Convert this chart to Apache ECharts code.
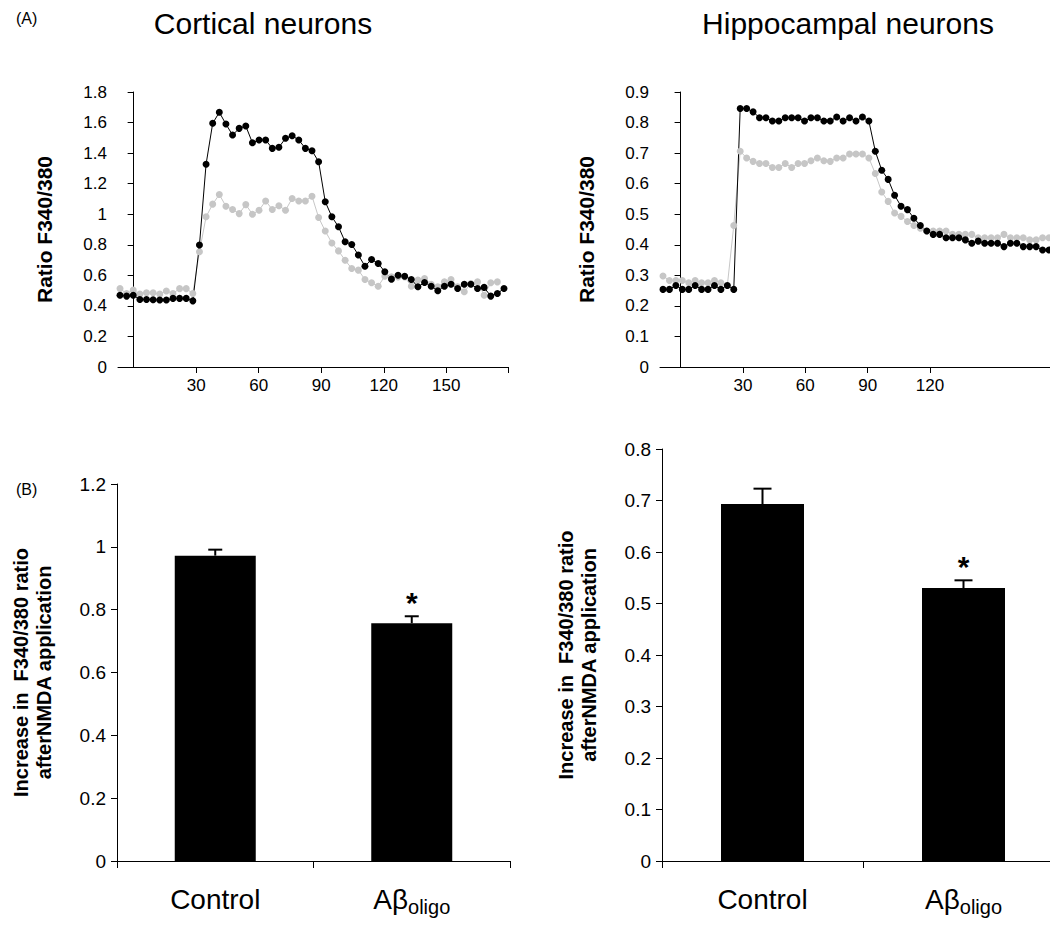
<!DOCTYPE html>
<html>
<head>
<meta charset="utf-8">
<script src="https://cdn.jsdelivr.net/npm/echarts@6/dist/echarts.min.js"></script>
<style>
  html, body { margin: 0; background: #fff; }
  #main { width: 1050px; height: 926px; }
</style>
</head>
<body>
<div id="main"></div>
<script>
// (A) Fura-2 ratio traces, one value per sample (~3.2 s apart)
// black = control, grey = Abeta oligomer treated
var cortControl = [0.47, 0.464, 0.47, 0.442, 0.442, 0.44, 0.438, 0.438, 0.449, 0.449, 0.449, 0.433,
  0.798, 1.327, 1.595, 1.667, 1.59, 1.518, 1.562, 1.577, 1.468, 1.486, 1.486, 1.431, 1.438, 1.497,
  1.514, 1.486, 1.431, 1.416, 1.344, 1.082, 0.983, 0.918, 0.82, 0.802, 0.733, 0.66, 0.704, 0.678,
  0.623, 0.575, 0.601, 0.594, 0.573, 0.525, 0.553, 0.529, 0.499, 0.529, 0.542, 0.514, 0.542, 0.542,
  0.514, 0.521, 0.464, 0.481, 0.514];
var cortAbeta = [0.513, 0.481, 0.503, 0.477, 0.486, 0.486, 0.477, 0.498, 0.481, 0.513, 0.513, 0.481,
  0.754, 0.983, 1.066, 1.129, 1.052, 1.031, 1.004, 1.063, 1.0, 1.026, 1.087, 1.031, 1.055, 1.026,
  1.103, 1.087, 1.087, 1.118, 0.978, 0.89, 0.812, 0.76, 0.699, 0.645, 0.634, 0.573, 0.551, 0.529,
  0.594, 0.59, 0.59, 0.59, 0.529, 0.57, 0.579, 0.542, 0.525, 0.557, 0.573, 0.525, 0.492, 0.547,
  0.557, 0.47, 0.551, 0.557];
var hippControl = [0.254, 0.254, 0.267, 0.254, 0.254, 0.267, 0.254, 0.254, 0.267, 0.254, 0.267, 0.254,
  0.846, 0.846, 0.835, 0.816, 0.816, 0.805, 0.805, 0.816, 0.816, 0.816, 0.805, 0.816, 0.816, 0.805,
  0.805, 0.818, 0.805, 0.816, 0.805, 0.818, 0.805, 0.706, 0.644, 0.614, 0.562, 0.526, 0.515, 0.487,
  0.463, 0.445, 0.434, 0.434, 0.423, 0.423, 0.423, 0.416, 0.405, 0.412, 0.405, 0.405, 0.405, 0.394,
  0.405, 0.405, 0.394, 0.394, 0.394, 0.383, 0.383];
var hippAbeta = [0.298, 0.283, 0.283, 0.283, 0.276, 0.283, 0.276, 0.276, 0.283, 0.276, 0.267, 0.463,
  0.706, 0.684, 0.673, 0.666, 0.666, 0.653, 0.653, 0.666, 0.653, 0.666, 0.666, 0.675, 0.684, 0.675,
  0.673, 0.684, 0.684, 0.697, 0.697, 0.697, 0.684, 0.633, 0.573, 0.542, 0.504, 0.493, 0.476, 0.463,
  0.454, 0.445, 0.445, 0.445, 0.445, 0.434, 0.434, 0.434, 0.434, 0.423, 0.423, 0.423, 0.423, 0.434,
  0.423, 0.423, 0.423, 0.416, 0.416, 0.423, 0.423];

// time axis tick labels (s)
var cortTimeTicks = [30, 60, 90, 120, 150];
var hippTimeTicks = [30, 60, 90, 120];

// (B) increase in F340/380 after NMDA, mean + SEM
var barCats = ['Control', 'Aβoligo'];
var cortIncrease = [0.972, 0.757];
var cortSem = [0.019, 0.022];
var hippIncrease = [0.693, 0.53];
var hippSem = [0.03, 0.015];
var signif = ['', '*'];

var FONT = '"Liberation Sans", Arial, sans-serif';
var YNAME_B = 'Increase in  F340/380 ratio\nafterNMDA application';

function sampleNums(arr) {
  return arr.map(function (v, i) { return i + 1; });
}

var chart = echarts.init(document.getElementById('main'), null, { renderer: 'svg' });

function trace(data, color, idx) {
  return {
    type: 'line', xAxisIndex: idx, yAxisIndex: idx, data: data,
    symbol: 'circle', symbolSize: 7, showSymbol: true, showAllSymbol: true,
    lineStyle: { color: color, width: 1 },
    itemStyle: { color: color },
    silent: true
  };
}

function timeAxis(grid, min, max, ticks) {
  return {
    type: 'value', gridIndex: grid, min: min, max: max,
    axisLine: { show: true, onZero: false, lineStyle: { color: '#000', width: 1 } },
    axisTick: { show: true, length: 6, customValues: ticks.concat([max]), lineStyle: { color: '#000' } },
    axisLabel: { customValues: ticks, color: '#000', fontSize: 17, margin: 10 },
    splitLine: { show: false }
  };
}

function hiddenCat(grid, data) {
  return { type: 'category', gridIndex: grid, data: sampleNums(data), boundaryGap: false, show: false };
}

function ratioAxis(grid, max, step, name, gap, nameSize, labelSize) {
  return {
    type: 'value', gridIndex: grid, min: 0, max: max, interval: step,
    name: name, nameLocation: 'middle', nameRotate: 90, nameGap: gap,
    nameTextStyle: { fontWeight: 'bold', fontSize: nameSize, color: '#000', lineHeight: nameSize + 3 },
    axisLine: { show: true, lineStyle: { color: '#000', width: 1 } },
    axisTick: { show: true, length: 6, lineStyle: { color: '#000' } },
    axisLabel: { color: '#000', fontSize: labelSize, margin: 11 },
    splitLine: { show: false }
  };
}

function hiddenRatio(grid, max) {
  return { type: 'value', gridIndex: grid, min: 0, max: max, show: false };
}

function catAxis(grid) {
  return {
    type: 'category', gridIndex: grid, data: barCats,
    axisLine: { show: true, lineStyle: { color: '#000', width: 1 } },
    axisTick: { show: true, length: 7, lineStyle: { color: '#000' } },
    axisLabel: {
      margin: 20, color: '#000',
      formatter: function (v) {
        return v.indexOf('Aβ') === 0 ? '{m|Aβ}{s|' + v.slice(2) + '}' : '{m|' + v + '}';
      },
      rich: {
        m: { fontSize: 28, lineHeight: 36, color: '#000' },
        s: { fontSize: 20, lineHeight: 20, verticalAlign: 'bottom', color: '#000' }
      }
    }
  };
}

function bars(idx, vals, width) {
  return {
    type: 'bar', xAxisIndex: idx, yAxisIndex: idx, data: vals, barWidth: width,
    itemStyle: { color: '#000' }, silent: true
  };
}

function errBars(idx, vals, errs, capHalf) {
  return {
    type: 'custom', xAxisIndex: idx, yAxisIndex: idx, z: 5, silent: true,
    data: vals.map(function (v, i) { return [i, v, errs[i]]; }),
    renderItem: function (params, api) {
      var i = api.value(0), v = api.value(1), e = api.value(2);
      var p0 = api.coord([i, v]);
      var p1 = api.coord([i, v + e]);
      var st = { stroke: '#000', lineWidth: 2 };
      var kids = [
        { type: 'line', shape: { x1: p0[0], y1: p0[1], x2: p1[0], y2: p1[1] }, style: st },
        { type: 'line', shape: { x1: p1[0] - capHalf, y1: p1[1], x2: p1[0] + capHalf, y2: p1[1] }, style: st }
      ];
      if (signif[i]) {
        kids.push({
          type: 'text',
          style: {
            text: signif[i], x: p1[0], y: p1[1] - 14,
            textAlign: 'center', align: 'center',
            textVerticalAlign: 'middle', verticalAlign: 'middle',
            font: 'bold 30px ' + FONT, fill: '#000'
          }
        });
      }
      return { type: 'group', children: kids };
    }
  };
}

var gridBase = { outerBoundsMode: 'none', containLabel: false };
function g(left, top, width, height) {
  return Object.assign({ left: left, top: top, width: width, height: height }, gridBase);
}

var option = {
  animation: false,
  backgroundColor: '#fff',
  textStyle: { fontFamily: FONT, color: '#000' },
  title: [
    { text: '(A)', left: 11, top: 5, textStyle: { fontSize: 16, fontWeight: 'normal', color: '#000' } },
    { text: 'Cortical neurons', left: 258, top: 3, textAlign: 'center', textStyle: { fontSize: 30, fontWeight: 'normal', color: '#000' } },
    { text: 'Hippocampal neurons', left: 843, top: 3, textAlign: 'center', textStyle: { fontSize: 30, fontWeight: 'normal', color: '#000' } },
    { text: '(B)', left: 11, top: 476, textStyle: { fontSize: 16, fontWeight: 'normal', color: '#000' } }
  ],
  grid: [
    g(118, 92, 390, 275),
    g(120, 92, 384, 275),
    g(660, 92, 390, 275),
    g(663, 92, 386, 275),
    g(117, 484, 393, 377),
    g(662, 449, 402, 412)
  ],
  xAxis: [
    timeAxis(0, -7.5, 179.6, cortTimeTicks),
    hiddenCat(1, cortControl),
    timeAxis(2, -9.9, 177.7, hippTimeTicks),
    hiddenCat(3, hippControl),
    catAxis(4),
    catAxis(5)
  ],
  yAxis: [
    ratioAxis(0, 1.8, 0.2, 'Ratio F340/380', 62, 21, 17),
    hiddenRatio(1, 1.8),
    ratioAxis(2, 0.9, 0.1, 'Ratio F340/380', 62, 21, 17),
    hiddenRatio(3, 0.9),
    ratioAxis(4, 1.2, 0.2, YNAME_B, 62, 20, 19),
    ratioAxis(5, 0.8, 0.1, YNAME_B, 62, 20, 19)
  ],
  series: [
    trace(cortAbeta, '#c6c6c6', 1),
    trace(cortControl, '#000', 1),
    trace(hippAbeta, '#c6c6c6', 3),
    trace(hippControl, '#000', 3),
    bars(4, cortIncrease, 81),
    errBars(4, cortIncrease, cortSem, 7),
    bars(5, hippIncrease, 83),
    errBars(5, hippIncrease, hippSem, 9)
  ]
};

chart.setOption(option);
</script>
</body>
</html>
